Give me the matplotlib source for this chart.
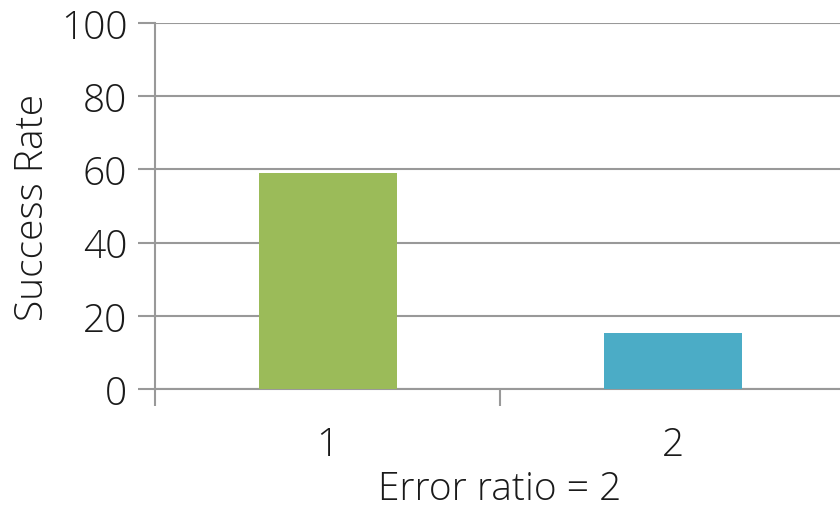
import matplotlib.pyplot as plt
import numpy as np

plt.rcParams['font.family'] = ['Open Sans', 'DejaVu Sans']

categories = ["1", "2"]
values = [59.1, 15.4]
colors = ["#9BBB59", "#4BACC6"]

fig = plt.figure(figsize=(8.4, 5.1), dpi=100)
ax = fig.add_axes([155/840, 1 - 390/510, 690/840, 366/510])

x = np.arange(1, len(categories) + 1)
ax.bar(x, values, width=0.4, color=colors, zorder=3)

ax.set_xlim(0.5, 2.5)
ax.set_ylim(0, 100)
ax.set_yticks(np.arange(0, 101, 20))
ax.yaxis.grid(True, color="#999999", linewidth=1.5, zorder=0)

ax.set_xticks(x)
ax.set_xticklabels(categories)
ax.set_xticks([0.5, 1.5, 2.5], minor=True)
ax.tick_params(axis="x", which="major", length=0, pad=26)
ax.tick_params(axis="x", which="minor", length=12, width=1.5, color="#999999")
ax.tick_params(axis="y", length=12, width=1.5, color="#999999", pad=8)
ax.tick_params(labelsize=28, labelcolor="#1a1a1a")
for lbl in ax.get_xticklabels() + ax.get_yticklabels():
    lbl.set_fontweight("light")

for s in ["top", "right"]:
    ax.spines[s].set_visible(False)
for s in ["left", "bottom"]:
    ax.spines[s].set_color("#999999")
    ax.spines[s].set_linewidth(1.5)

ax.set_xlabel("Error ratio = 2", fontsize=28, fontweight="light", color="#1a1a1a", labelpad=4)
ax.set_ylabel("Success Rate", fontsize=28, fontweight="light", color="#1a1a1a", labelpad=6)

fig.savefig("out.png", dpi=100)
